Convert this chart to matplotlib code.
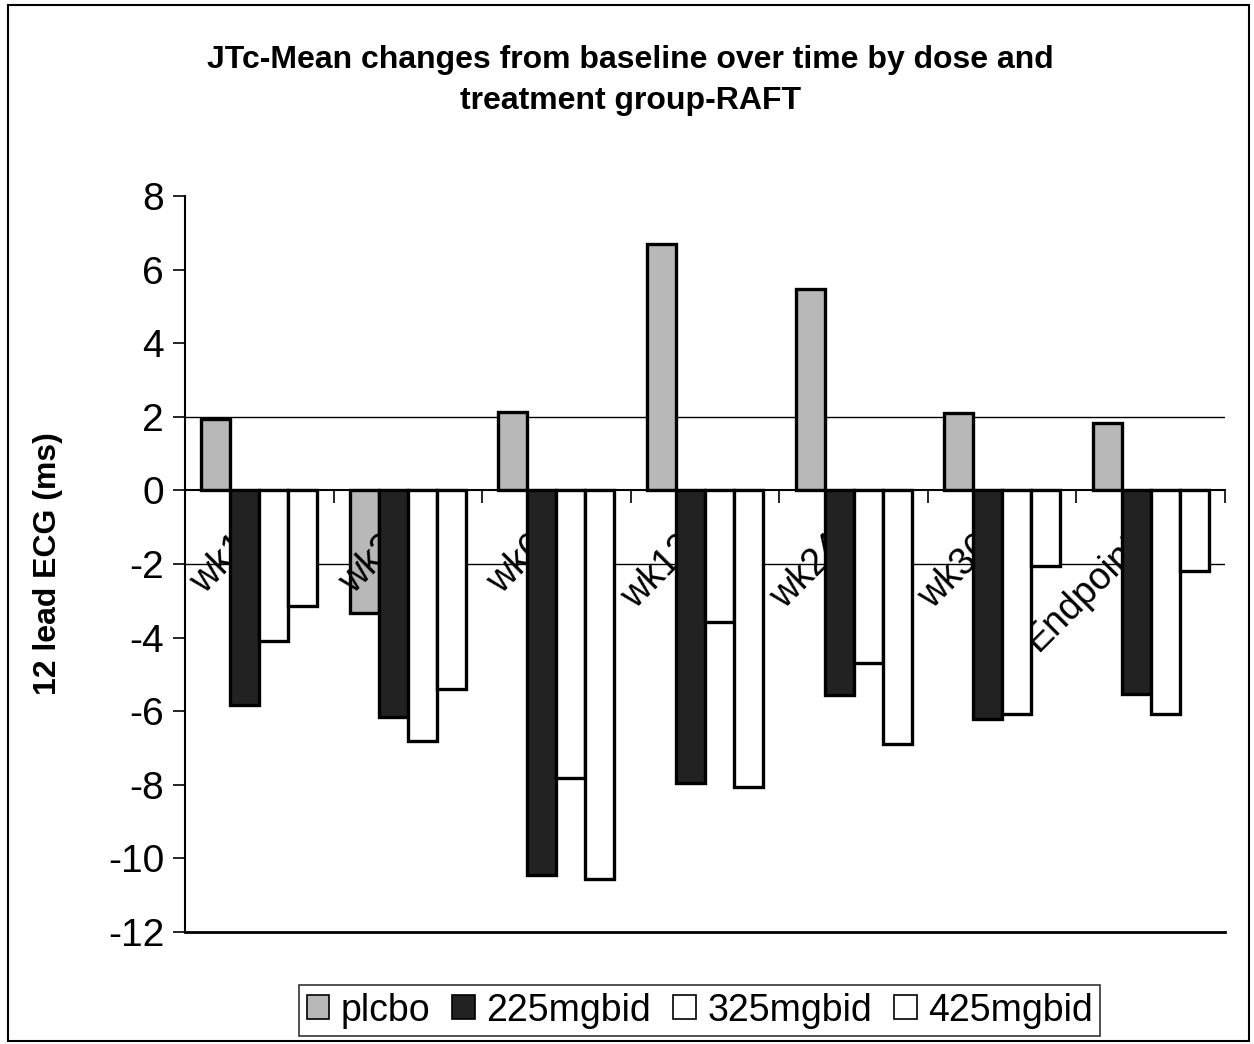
import numpy as np
import matplotlib
matplotlib.use('Agg')
import matplotlib.pyplot as plt
from matplotlib.patches import Rectangle

plt.rcParams['font.family'] = ['Liberation Sans', 'DejaVu Sans']

categories = ['wk1', 'wk3', 'wk6', 'wk12', 'wk24', 'wk36', 'Endpoint']
series_names = ['plcbo', '225mgbid', '325mgbid', '425mgbid']
plcbo = [1.95, -3.33, 2.14, 6.69, 5.47, 2.11, 1.84]
mg225 = [-5.83, -6.15, -10.46, -7.95, -5.56, -6.20, -5.53]
mg325 = [-4.10, -6.82, -7.82, -3.58, -4.70, -6.09, -6.09]
mg425 = [-3.15, -5.40, -10.55, -8.05, -6.89, -2.05, -2.18]
yticks = [8, 6, 4, 2, 0, -2, -4, -6, -8, -10, -12]

colors = ['#b8b8b8', '#222222', 'white', 'white']

fig = plt.figure(figsize=(12.54, 10.44), dpi=100)
ax = fig.add_axes([0.1475, 0.1073, 0.8294, 0.705])

x = np.arange(len(categories))
w = 0.195
for k, vals in enumerate([plcbo, mg225, mg325, mg425]):
    # placebo sits under the category labels, the rest cover them
    ax.bar(x + (k - 1.5) * w, vals, width=w, color=colors[k], edgecolor='black',
           linewidth=2.4, label=series_names[k], zorder=2 if k == 0 else 4)

ax.set_xlim(-0.5, len(categories) - 0.5)
ax.set_ylim(-12, 8)
ax.set_yticks(yticks)
ax.set_yticklabels([str(v) for v in yticks], fontsize=28)
ax.tick_params(axis='y', length=9, width=1.2, pad=6)

# only the +/-2 gridlines survive in the original
for gy in [2, -2]:
    ax.axhline(gy, color='black', linewidth=1.0, zorder=1)

# category axis drawn at zero
ax.spines['top'].set_visible(False)
ax.spines['right'].set_visible(False)
ax.spines['bottom'].set_position(('data', 0))
ax.spines['bottom'].set_linewidth(1.5)
ax.spines['left'].set_linewidth(1.5)
ax.axhline(-12, color='black', linewidth=2.0, clip_on=False)

ax.set_xticks(np.arange(len(categories) + 1) - 0.5)
ax.set_xticklabels([])
ax.tick_params(axis='x', direction='out', length=9, width=1.2)
for i, c in enumerate(categories):
    ax.annotate(c, xy=(i, 0), xytext=(-20, -27), textcoords='offset points',
                rotation=45, ha='right', va='top', rotation_mode='anchor',
                fontsize=27, zorder=3)

ax.set_ylabel('12 lead ECG (ms)', fontsize=23, fontweight='bold')
ax.yaxis.set_label_coords(-0.117, 0.5)

fig.text(0.503, 0.923, 'JTc-Mean changes from baseline over time by dose and\ntreatment group-RAFT',
         ha='center', va='center', fontsize=23, fontweight='bold', linespacing=1.45)

leg = ax.legend(loc='center', bbox_to_anchor=(0.558, 0.032), bbox_transform=fig.transFigure,
                ncol=4, fontsize=27, frameon=True, fancybox=False, edgecolor='black',
                handlelength=0.6, handleheight=0.6, handletextpad=0.3, columnspacing=0.6,
                borderpad=0.2)
leg.get_frame().set_linewidth(1.2)
for h in leg.legend_handles:
    h.set_linewidth(1.2)

fig.patches.append(Rectangle((0.006, 0.003), 0.99, 0.992, transform=fig.transFigure,
                             fill=False, edgecolor='black', linewidth=1.5))

fig.savefig('out.png', dpi=100)
